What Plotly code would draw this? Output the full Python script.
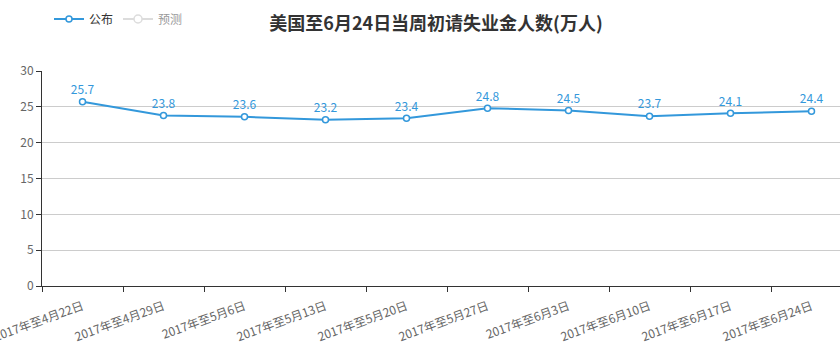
import plotly.graph_objects as go

categories = ["2017年至4月22日", "2017年至4月29日", "2017年至5月6日", "2017年至5月13日",
              "2017年至5月20日", "2017年至5月27日", "2017年至6月3日", "2017年至6月10日",
              "2017年至6月17日", "2017年至6月24日"]
published = [25.7, 23.8, 23.6, 23.2, 23.4, 24.8, 24.5, 23.7, 24.1, 24.4]
forecast = [None] * len(categories)

BLUE = "#3398DB"
FONT = "Noto Sans CJK SC, Microsoft YaHei, sans-serif"

fig = go.Figure()
fig.add_trace(go.Scatter(
    x=categories, y=published, name="公布", mode="lines+markers+text",
    line=dict(color=BLUE, width=2),
    marker=dict(symbol="circle", size=6, color="white", line=dict(color=BLUE, width=1.5)),
    text=[f"{v}" for v in published], textposition="top center",
    textfont=dict(color=BLUE, size=12, family=FONT),
    cliponaxis=False,
))
fig.add_trace(go.Scatter(
    x=categories, y=forecast, name="预测", mode="lines+markers",
    line=dict(color="#bbbbbb", width=2),
    marker=dict(symbol="circle", size=8, color="white", line=dict(color="#bbbbbb", width=1.5)),
    visible="legendonly",
))

plot_h = 354 - 71 - 68

fig.update_layout(
    width=840, height=354,
    margin=dict(l=42, r=0, t=71, b=68, autoexpand=False),
    paper_bgcolor="white", plot_bgcolor="white",
    font=dict(family=FONT, size=12, color="#666"),
    title=dict(text="<b>美国至6月24日当周初请失业金人数(万人)</b>", x=436/840, xanchor="center",
               y=1-24/354, yanchor="middle", font=dict(size=18, color="#333", family=FONT)),
    showlegend=True,
    legend=dict(orientation="h", x=7/798, y=1 + (71 - 19) / plot_h, xanchor="left", yanchor="middle",
                font=dict(size=12, color="#333"), itemwidth=30),
    xaxis=dict(type="category", range=[-0.5, -0.5 + 798 / 81], tickson="boundaries",
               automargin=False,
               ticks="outside", ticklen=5, tickcolor="#333", showline=True, linecolor="#333",
               linewidth=1, showgrid=False, tickangle=-20, ticklabelstandoff=8,
               tickfont=dict(size=12, color="#666")),
    yaxis=dict(range=[0, 30], dtick=5, ticks="outside", ticklen=5, tickcolor="#333",
               automargin=False,
               showline=True, linecolor="#333", linewidth=1, showgrid=True, gridcolor="#ccc",
               zeroline=False, tickfont=dict(size=12, color="#666")),
)

fig.write_html("out.html")
